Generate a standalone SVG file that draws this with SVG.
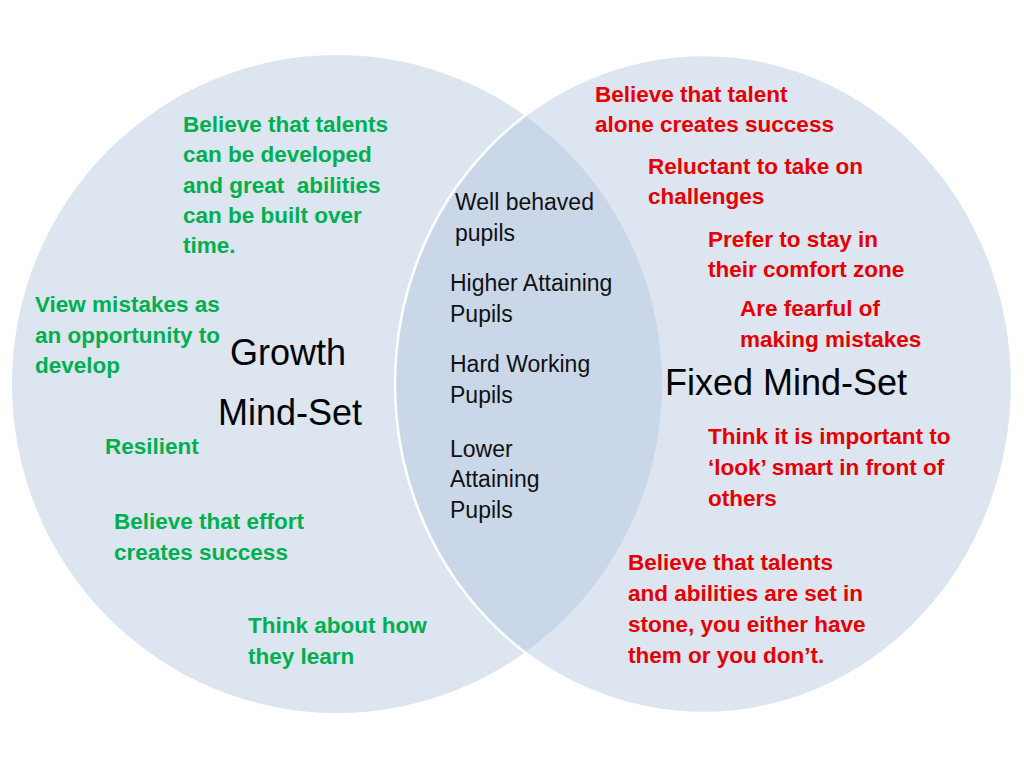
<svg xmlns="http://www.w3.org/2000/svg" width="1024" height="768" viewBox="0 0 1024 768">
<style>
.g{font-family:"Liberation Sans",Arial,sans-serif;font-weight:bold;font-size:22.5px;fill:#00b050}
.r{font-family:"Liberation Sans",Arial,sans-serif;font-weight:bold;font-size:22.5px;fill:#e60000}
.k{font-family:"Liberation Sans",Arial,sans-serif;font-size:23px;fill:#111}
.t{font-family:"Liberation Sans",Arial,sans-serif;font-size:36px;fill:#000}
</style>
<defs>
<clipPath id="leftClip"><ellipse cx="337" cy="384" rx="325" ry="329"/></clipPath>
</defs>
<rect width="1024" height="768" fill="#fff"/>
<g id="growth-circle">
<ellipse cx="337" cy="384" rx="325" ry="329" fill="#dce5f0"/>
</g>
<g id="fixed-circle">
<ellipse cx="703.5" cy="384" rx="308.5" ry="329" fill="#dce5f0" stroke="#fff" stroke-width="2.5"/>
</g>
<g id="overlap">
<ellipse cx="703.5" cy="384" rx="307" ry="327.5" fill="#c9d7e8" clip-path="url(#leftClip)"/>
</g>
<g id="connectors"></g>
<g id="growth-title">
<text class="t" x="230" y="365">Growth</text>
<text class="t" x="218" y="425">Mind-Set</text>
</g>
<g id="fixed-title">
<text class="t" x="665" y="395">Fixed Mind-Set</text>
</g>
<g id="growth-1">
<text class="g" x="183" y="132">Believe that talents</text>
<text class="g" x="183" y="162">can be developed</text>
<text class="g" x="183" y="193" xml:space="preserve" style="white-space:pre">and great  abilities</text>
<text class="g" x="183" y="223">can be built over</text>
<text class="g" x="183" y="253">time.</text>
</g>
<g id="growth-2">
<text class="g" x="35" y="312">View mistakes as</text>
<text class="g" x="35" y="343">an opportunity to</text>
<text class="g" x="35" y="373">develop</text>
</g>
<g id="growth-3">
<text class="g" x="105" y="454">Resilient</text>
</g>
<g id="growth-4">
<text class="g" x="114" y="529">Believe that effort</text>
<text class="g" x="114" y="560">creates success</text>
</g>
<g id="growth-5">
<text class="g" x="248" y="633">Think about how</text>
<text class="g" x="248" y="664">they learn</text>
</g>
<g id="both-1">
<text class="k" x="455" y="210">Well behaved</text>
<text class="k" x="455" y="241">pupils</text>
</g>
<g id="both-2">
<text class="k" x="450" y="291">Higher Attaining</text>
<text class="k" x="450" y="322">Pupils</text>
</g>
<g id="both-3">
<text class="k" x="450" y="372">Hard Working</text>
<text class="k" x="450" y="403">Pupils</text>
</g>
<g id="both-4">
<text class="k" x="450" y="457">Lower</text>
<text class="k" x="450" y="487">Attaining</text>
<text class="k" x="450" y="518">Pupils</text>
</g>
<g id="fixed-1">
<text class="r" x="595" y="102">Believe that talent</text>
<text class="r" x="595" y="132">alone creates success</text>
</g>
<g id="fixed-2">
<text class="r" x="648" y="174">Reluctant to take on</text>
<text class="r" x="648" y="204">challenges</text>
</g>
<g id="fixed-3">
<text class="r" x="708" y="247">Prefer to stay in</text>
<text class="r" x="708" y="277">their comfort zone</text>
</g>
<g id="fixed-4">
<text class="r" x="740" y="316">Are fearful of</text>
<text class="r" x="740" y="347">making mistakes</text>
</g>
<g id="fixed-5">
<text class="r" x="708" y="444">Think it is important to</text>
<text class="r" x="708" y="475">‘look’ smart in front of</text>
<text class="r" x="708" y="506">others</text>
</g>
<g id="fixed-6">
<text class="r" x="628" y="570">Believe that talents</text>
<text class="r" x="628" y="601">and abilities are set in</text>
<text class="r" x="628" y="632">stone, you either have</text>
<text class="r" x="628" y="663">them or you don’t.</text>
</g>
</svg>
